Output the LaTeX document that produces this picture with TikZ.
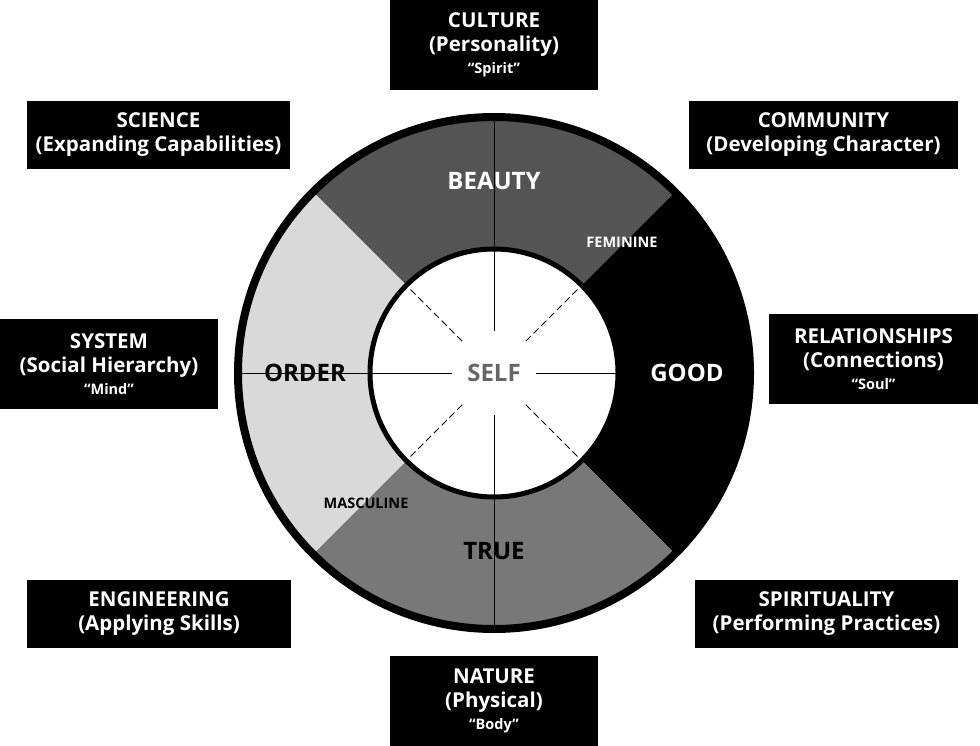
\documentclass[tikz,border=0pt]{standalone}
\usepackage{fontspec}
\setmainfont{Open Sans}
\begin{document}
\begin{tikzpicture}[x=1pt,y=-1pt,
 box/.style={fill=black,text=white,font=\bfseries\fontsize{20.5}{24}\selectfont,align=center,inner sep=0pt},
 q/.style={font=\bfseries\fontsize{14.5}{17}\selectfont}]
\useasboundingbox (0,0) rectangle (980,746);
\def\cx{494}\def\cy{373}
% sectors
\fill[black!67] (\cx,\cy) -- ++(-135:254) arc[start angle=-135,end angle=-45,radius=254] -- cycle;
\fill[black] (\cx,\cy) -- ++(-45:254) arc[start angle=-45,end angle=45,radius=254] -- cycle;
\fill[black!53] (\cx,\cy) -- ++(45:254) arc[start angle=45,end angle=135,radius=254] -- cycle;
\fill[black!15] (\cx,\cy) -- ++(135:254) arc[start angle=135,end angle=225,radius=254] -- cycle;
\draw[line width=8] (\cx,\cy) circle[radius=256];
% sector lines
\draw[line width=1] (\cx,117) -- (\cx,249);
\draw[line width=1] (\cx,497) -- (\cx,629);
\draw[line width=1] (238,\cy) -- (370,\cy);
\draw[line width=1] (618,\cy) -- (750,\cy);
\fill[white] (\cx,\cy) circle[radius=124];
\draw[line width=5] (\cx,\cy) circle[radius=124];
% spokes
\foreach \a in {0,90,180,270}
 \draw[line width=1] (\cx,\cy) ++(\a:42) -- ++(\a:80);
\foreach \a in {45,135,225,315}
 \draw[line width=1,dash pattern=on 7pt off 4pt] (\cx,\cy) ++(\a:45) -- ++(\a:77);
% labels
\node[font=\bfseries\fontsize{24}{28}\selectfont,text=black!60] (self) at (\cx,\cy) {SELF};
\node[font=\bfseries\fontsize{24}{28}\selectfont,text=white] (beauty) at (494,181) {BEAUTY};
\node[font=\bfseries\fontsize{24}{28}\selectfont,text=white] (good) at (687,373) {GOOD};
\node[font=\bfseries\fontsize{24}{28}\selectfont] (true) at (494,551) {TRUE};
\node[font=\bfseries\fontsize{24}{28}\selectfont] (order) at (305,373) {ORDER};
\node[q,text=white] (fem) at (622,242) {FEMININE};
\node[q] (masc) at (366,503) {MASCULINE};
% boxes
\node[box,minimum width=208,minimum height=90] (culture) at (494,45) {CULTURE\\(Personality)\\[-2pt]{\fontsize{14.5}{17}\selectfont “Spirit”}};
\node[box,minimum width=263,minimum height=68] (science) at (158.5,135) {SCIENCE\\(Expanding Capabilities)};
\node[box,minimum width=269,minimum height=68] (community) at (823.5,135) {COMMUNITY\\(Developing Character)};
\node[box,minimum width=218,minimum height=90] (system) at (109,364) {SYSTEM\\(Social Hierarchy)\\[-2pt]{\fontsize{14.5}{17}\selectfont “Mind”}};
\node[box,minimum width=209,minimum height=90] (rel) at (873.5,359) {RELATIONSHIPS\\(Connections)\\[-2pt]{\fontsize{14.5}{17}\selectfont “Soul”}};
\node[box,minimum width=264,minimum height=68] (eng) at (159,614) {ENGINEERING\\(Applying Skills)};
\node[box,minimum width=263,minimum height=68] (spir) at (826.5,614) {SPIRITUALITY\\(Performing Practices)};
\node[box,minimum width=208,minimum height=90] (nature) at (494,701) {NATURE\\(Physical)\\[-2pt]{\fontsize{14.5}{17}\selectfont “Body”}};
\end{tikzpicture}
\end{document}
